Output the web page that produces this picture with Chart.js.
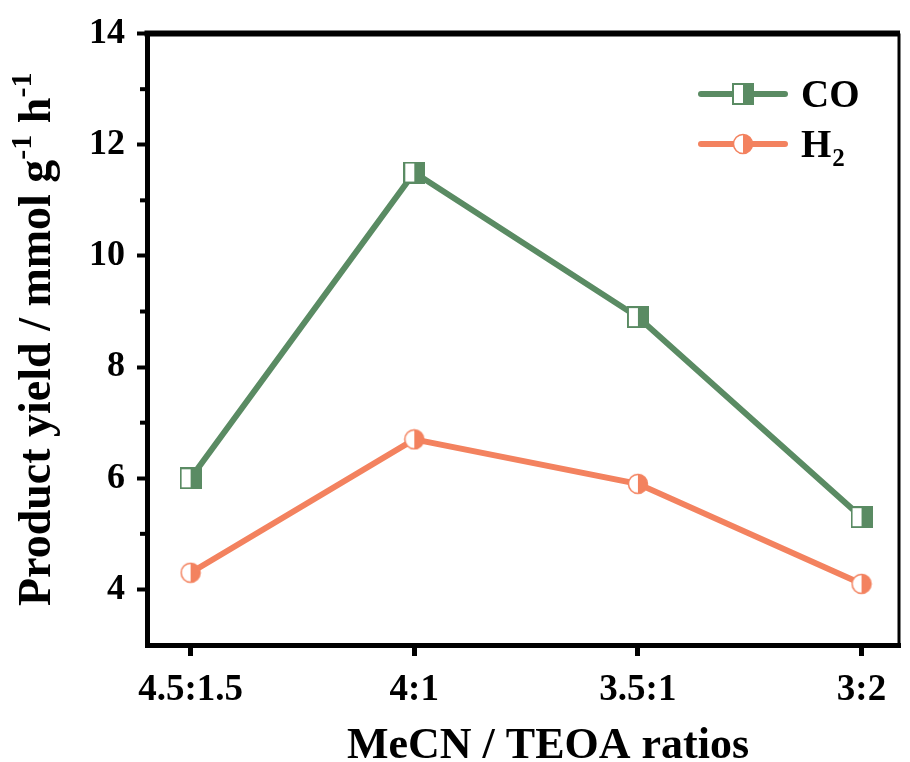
<!DOCTYPE html>
<html>
<head>
<meta charset="utf-8">
<script src="https://cdn.jsdelivr.net/npm/chart.js@4"></script>
<style>
  html, body { margin: 0; padding: 0; background: #fff; }
  #wrap { width: 910px; height: 762px; }
</style>
</head>
<body>
<div id="wrap"><canvas id="yieldChart" width="910" height="762"></canvas></div>
<script>
// data
const ratios = ['4.5:1.5', '4:1', '3.5:1', '3:2'];
const coYield = [6.0, 11.5, 8.9, 5.3];
const h2Yield = [4.3, 6.7, 5.9, 4.1];
const yTicks = [4, 6, 8, 10, 12, 14];
const yMinorTicks = [5, 7, 9, 11, 13];

const green = '#5a8b63';
const salmon = '#f3825f';
const font = "'Liberation Serif', 'Times New Roman', serif";

// half filled markers (left white, right coloured)
function squareMarker(color) {
    const c = document.createElement('canvas');
    c.width = 22; c.height = 22;
    const g = c.getContext('2d');
    g.fillStyle = '#fff';
    g.fillRect(1, 1, 20, 20);
    g.fillStyle = color;
    g.fillRect(11, 1, 10, 20);
    g.strokeStyle = color;
    g.lineWidth = 2;
    g.strokeRect(1, 1, 20, 20);
    return c;
}

function circleMarker(color) {
    const c = document.createElement('canvas');
    c.width = 22; c.height = 22;
    const g = c.getContext('2d');
    g.beginPath();
    g.arc(11, 11, 9.5, 0, Math.PI * 2);
    g.fillStyle = '#fff';
    g.fill();
    g.beginPath();
    g.arc(11, 11, 9.5, -Math.PI / 2, Math.PI / 2);
    g.closePath();
    g.fillStyle = color;
    g.fill();
    g.beginPath();
    g.arc(11, 11, 9.5, 0, Math.PI * 2);
    g.strokeStyle = color;
    g.lineWidth = 1.5;
    g.stroke();
    return c;
}

const coMarker = squareMarker(green);
const h2Marker = circleMarker(salmon);

// frame, minor ticks, axis titles and legend
const extras = {
    id: 'extras',
    afterDraw(chart) {
        const ctx = chart.ctx;
        const a = chart.chartArea;
        const y = chart.scales.y;
        ctx.save();
        ctx.strokeStyle = '#000';
        // top and right border
        ctx.lineWidth = 6;
        ctx.beginPath();
        ctx.moveTo(a.left - 2.5, a.top);
        ctx.lineTo(a.right, a.top);
        ctx.stroke();
        ctx.lineWidth = 3;
        ctx.beginPath();
        ctx.moveTo(a.right - 1, a.top);
        ctx.lineTo(a.right - 1, a.bottom);
        ctx.stroke();
        // minor ticks
        ctx.lineWidth = 4;
        yMinorTicks.forEach(v => {
            const py = y.getPixelForValue(v);
            ctx.beginPath();
            ctx.moveTo(a.left - 7, py);
            ctx.lineTo(a.left, py);
            ctx.stroke();
        });

        ctx.fillStyle = '#000';
        ctx.textBaseline = 'alphabetic';
        // x title
        ctx.font = 'bold 44px ' + font;
        ctx.textAlign = 'center';
        ctx.fillText('MeCN / TEOA ratios', 548, 758);

        // y title with superscripts
        const parts = [
            ['Product yield / mmol g', false],
            ['-1', true],
            [' h', false],
            ['-1', true]
        ];
        const big = 'bold 46px ' + font;
        const small = 'bold 30px ' + font;
        let total = 0;
        parts.forEach(p => { ctx.font = p[1] ? small : big; total += ctx.measureText(p[0]).width; });
        ctx.translate(50, (a.top + a.bottom) / 2);
        ctx.rotate(-Math.PI / 2);
        ctx.textAlign = 'left';
        let x = -total / 2;
        parts.forEach(p => {
            ctx.font = p[1] ? small : big;
            ctx.fillText(p[0], x, p[1] ? -19 : 0);
            x += ctx.measureText(p[0]).width;
        });
        ctx.restore();

        // legend
        ctx.save();
        const rows = [
            { color: green, img: coMarker, y: 94, text: 'CO', sub: '' },
            { color: salmon, img: h2Marker, y: 144, text: 'H', sub: '2' }
        ];
        rows.forEach(r => {
            ctx.strokeStyle = r.color;
            ctx.lineWidth = 6;
            ctx.lineCap = 'round';
            ctx.beginPath();
            ctx.moveTo(701, r.y);
            ctx.lineTo(785, r.y);
            ctx.stroke();
            ctx.drawImage(r.img, 743 - 11, r.y - 11);
            ctx.fillStyle = '#000';
            ctx.font = 'bold 39px ' + font;
            ctx.textAlign = 'left';
            ctx.fillText(r.text, 801, r.y + 13);
            if (r.sub) {
                const w = ctx.measureText(r.text).width;
                ctx.font = 'bold 25px ' + font;
                ctx.fillText(r.sub, 801 + w + 1, r.y + 22);
            }
        });
        ctx.restore();
    }
};

const ctx = document.getElementById('yieldChart').getContext('2d');
new Chart(ctx, {
    type: 'line',
    data: {
        datasets: [
            {
                label: 'CO',
                data: coYield.map((v, i) => ({ x: i, y: v })),
                borderColor: green,
                backgroundColor: green,
                borderWidth: 6,
                pointStyle: coMarker,
                tension: 0
            },
            {
                label: 'H2',
                data: h2Yield.map((v, i) => ({ x: i, y: v })),
                borderColor: salmon,
                backgroundColor: salmon,
                borderWidth: 6,
                pointStyle: h2Marker,
                tension: 0
            }
        ]
    },
    options: {
        responsive: false,
        animation: false,
        layout: { padding: { top: 31, right: 2, left: 0, bottom: 0 } },
        plugins: {
            legend: { display: false },
            tooltip: { enabled: false }
        },
        scales: {
            x: {
                type: 'linear',
                min: -0.195,
                max: 3.172,
                afterBuildTicks: scale => { scale.ticks = ratios.map((r, i) => ({ value: i })); },
                afterFit: scale => { scale.height = 117; },
                border: { display: true, color: '#000', width: 5 },
                grid: { drawOnChartArea: false, drawTicks: true, tickLength: 11, tickWidth: 5, tickColor: '#000' },
                ticks: {
                    color: '#000',
                    padding: 12,
                    maxRotation: 0,
                    font: { family: font, size: 37, weight: 'bold' },
                    callback: v => ratios[v]
                }
            },
            y: {
                min: 3,
                max: 14,
                afterBuildTicks: scale => { scale.ticks = yTicks.map(v => ({ value: v })); },
                afterFit: scale => { scale.width = 147; },
                border: { display: true, color: '#000', width: 5 },
                grid: { drawOnChartArea: false, drawTicks: true, tickLength: 10, tickWidth: 4, tickColor: '#000' },
                ticks: {
                    color: '#000',
                    padding: 12,
                    font: { family: font, size: 36, weight: 'bold' }
                }
            }
        }
    },
    plugins: [extras]
});
</script>
</body>
</html>
